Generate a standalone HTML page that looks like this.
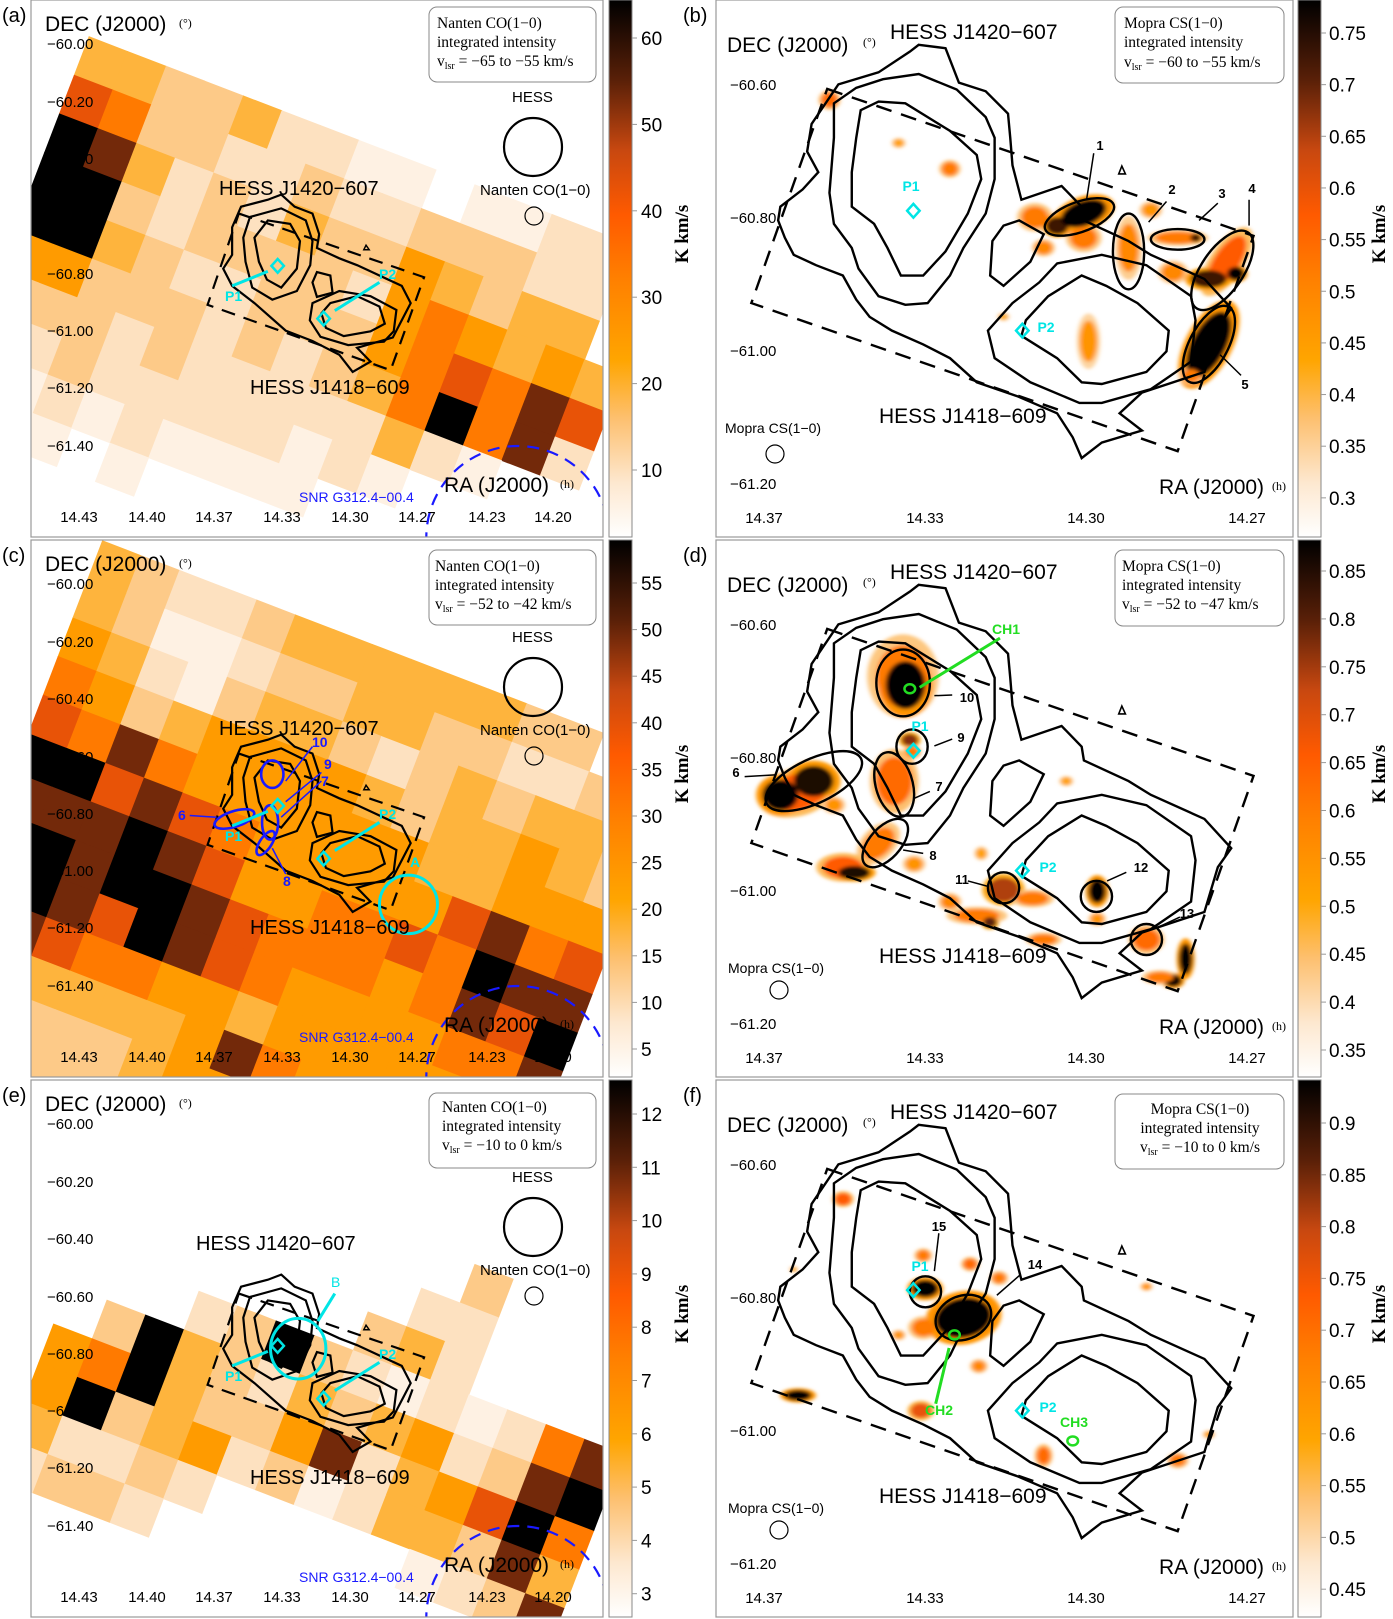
<!DOCTYPE html>
<html><head><meta charset="utf-8"><title>CO and CS maps toward HESS J1420-607 / J1418-609</title>
<style>
html,body{margin:0;padding:0;background:#fff;width:1393px;height:1619px;overflow:hidden;}
svg{display:block;}
.nss{vector-effect:non-scaling-stroke;}
.t{font-family:"Liberation Sans",sans-serif;fill:#000;}
.s{font-family:"Liberation Serif",serif;fill:#000;}
</style></head>
<body>
<svg id="fig" xmlns="http://www.w3.org/2000/svg" width="1393" height="1619" viewBox="0 0 1393 1619">
<defs>
<linearGradient id="cbgrad" x1="0" y1="1" x2="0" y2="0">
<stop offset="0" stop-color="#ffffff"/><stop offset="0.1" stop-color="#fde8d0"/><stop offset="0.22" stop-color="#fdc070"/>
<stop offset="0.33" stop-color="#ffa500"/><stop offset="0.48" stop-color="#ff8000"/><stop offset="0.6" stop-color="#ff5a00"/>
<stop offset="0.72" stop-color="#c84810"/><stop offset="0.85" stop-color="#5a2008"/><stop offset="1" stop-color="#000000"/>
</linearGradient>
<filter id="blur" x="-50%" y="-50%" width="200%" height="200%"><feGaussianBlur stdDeviation="5"/></filter>
<clipPath id="clipL0"><rect x="31" y="0" width="572" height="537"/></clipPath>
<clipPath id="clipL1"><rect x="31" y="540" width="572" height="537"/></clipPath>
<clipPath id="clipL2"><rect x="31" y="1080" width="572" height="537"/></clipPath>
<clipPath id="clipR0"><rect x="716" y="0" width="577" height="537"/></clipPath>
<clipPath id="clipR1"><rect x="716" y="540" width="577" height="537"/></clipPath>
<clipPath id="clipR2"><rect x="716" y="1080" width="577" height="537"/></clipPath>
<g id="hessL" fill="none" stroke="#000" stroke-width="2.2">
<path class="nss" d="M630,565 L660,600 L700,620 L715,680 L710,720 L760,750 L800,770 L850,800 L900,830 L920,880 L900,930 L880,980 L800,1010 L830,1050 L790,1080 L760,1030 L700,990 L640,960 L570,880 L520,830 L500,780 L520,740 L520,660 L540,600 L600,580 Z"/>
<path class="nss" d="M560,630 L630,605 L685,640 L700,700 L695,770 L665,845 L610,870 L565,835 L550,760 L545,690 Z"/>
<path class="nss" d="M600,640 L650,650 L672,700 L665,780 L630,835 L598,812 L580,760 L570,690 Z"/>
<path class="nss" d="M710,790 L740,800 L745,850 L710,862 L700,820 Z"/>
<path class="nss" d="M700,880 L760,845 L830,860 L888,900 L882,962 L860,992 L780,1002 L718,978 L694,930 Z"/>
<path class="nss" d="M740,880 L800,860 L850,890 L862,940 L830,962 L770,976 L730,952 L720,910 Z"/>
<path class="nss" d="M535,620 L950,805 L875,1075 L465,885 Z" stroke-dasharray="14 9"/>
<path class="nss" d="M815,725 L820,712 L827,725 Z" stroke-width="1.5"/>
</g>
<g id="hessR" fill="none" stroke="#000" stroke-width="2.4">
<path class="nss" d="M490,130 L550,140 L580,240 L640,265 L690,330 L695,400 L700,480 L720,580 L810,540 L855,600 L860,640 L960,700 L1010,740 L1130,810 L1190,895 L1160,950 L1130,1080 L990,1140 L940,1200 L990,1250 L900,1285 L855,1330 L835,1270 L800,1200 L710,1150 L620,1110 L560,1040 L500,1000 L430,960 L380,920 L350,870 L320,800 L260,770 L210,740 L190,690 L175,640 L180,600 L230,550 L265,500 L240,440 L250,360 L310,245 L400,210 L470,150 Z"/>
<path class="nss" d="M490,215 L575,260 L640,340 L660,400 L660,520 L640,620 L590,720 L560,800 L510,880 L460,885 L400,860 L355,780 L340,720 L300,650 L290,560 L300,400 L300,300 L350,255 L410,230 Z"/>
<path class="nss" d="M400,295 L460,300 L560,380 L620,450 L630,520 L600,620 L550,730 L500,800 L450,800 L420,720 L390,650 L340,600 L340,500 L350,400 L360,320 Z"/>
<path class="nss" d="M680,655 L715,640 L770,680 L740,760 L680,830 L650,800 L655,700 Z"/>
<path class="nss" d="M800,765 L900,740 L1000,770 L1100,860 L1110,930 L1100,1050 L1010,1130 L900,1170 L850,1170 L740,1110 L660,1040 L645,960 L700,880 L760,820 Z"/>
<path class="nss" d="M855,800 L910,830 L980,880 L1050,960 L1045,1020 L1000,1080 L900,1115 L855,1110 L800,1040 L720,975 L730,930 L780,860 Z"/>
<path class="nss" d="M285,258 L1240,685 L1070,1310 L115,880 Z" stroke-dasharray="16 10"/>
<path class="nss" d="M938,505 L945,482 L953,505 Z" stroke-width="1.6"/>
</g>
</defs>

<!-- ================= PANEL A ================= -->
<g id="panel-a">
<g clip-path="url(#clipL0)"><g transform="scale(1.0331)"><g id="mapA" transform="translate(86,35) rotate(21)"></g></g>
<g transform="translate(0,0) scale(0.4464 0.3444)">
<use href="#hessL"/>
<ellipse class="nss" cx="1160" cy="1560" rx="205" ry="265" fill="none" stroke="#1a1aff" stroke-width="2.2" stroke-dasharray="12 8"/>
<line class="nss" x1="520" y1="830" x2="600" y2="788" stroke="#00e5e5" stroke-width="3"/>
<line class="nss" x1="850" y1="820" x2="750" y2="902" stroke="#00e5e5" stroke-width="3"/>
<polygon class="nss" points="622,752 636,772 622,792 608,772" fill="none" stroke="#00e5e5" stroke-width="2.5"/>
<polygon class="nss" points="725,905 739,925 725,945 711,925" fill="none" stroke="#00e5e5" stroke-width="2.5"/>
</g></g>
<rect x="31" y="0" width="572" height="537" fill="none" stroke="#999" stroke-width="1.2"/>
<rect x="429" y="7" width="167" height="75" rx="8" fill="#fff" stroke="#888"/>
<text class="s" x="437" y="28" font-size="15.5">Nanten CO(1−0)</text>
<text class="s" x="437" y="47" font-size="15.5">integrated intensity</text>
<text class="s" x="437" y="66" font-size="15.5">v<tspan font-size="10" dy="3">lsr</tspan><tspan dy="-3"> = −65 to −55 km/s</tspan></text>
<text class="t" x="2" y="22" font-size="20">(a)</text>
<text class="t" x="45" y="31" font-size="21">DEC (J2000)</text><text class="s" x="179" y="27" font-size="12">(°)</text>
<text class="t" x="512" y="102" font-size="15">HESS</text>
<circle cx="533" cy="147" r="29" fill="none" stroke="#000" stroke-width="2.2"/>
<text class="t" x="480" y="195" font-size="15">Nanten CO(1−0)</text>
<circle cx="534" cy="216" r="9" fill="none" stroke="#000" stroke-width="1.2"/>
<text class="t" x="219" y="195" font-size="20">HESS J1420−607</text>
<text class="t" x="250" y="394" font-size="20">HESS J1418−609</text>
<text class="t" x="225" y="301" font-size="14" font-weight="bold" style="fill:#00e5e5">P1</text>
<text class="t" x="379" y="279" font-size="14" font-weight="bold" style="fill:#00e5e5">P2</text>
<text class="t" x="299" y="502" font-size="14" style="fill:#1a1aff">SNR G312.4−00.4</text>
<text class="t" x="444" y="492" font-size="21">RA (J2000)</text><text class="s" x="560" y="488" font-size="12">(h)</text>
<g class="t" font-size="15"><text x="47" y="49">−60.00</text><text x="47" y="107">−60.20</text><text x="47" y="164">−60.40</text><text x="47" y="222">−60.60</text><text x="47" y="279">−60.80</text><text x="47" y="336">−61.00</text><text x="47" y="393">−61.20</text><text x="47" y="451">−61.40</text></g>
<g class="t" font-size="15" text-anchor="middle"><text x="79" y="522">14.43</text><text x="147" y="522">14.40</text><text x="214" y="522">14.37</text><text x="282" y="522">14.33</text><text x="350" y="522">14.30</text><text x="417" y="522">14.27</text><text x="487" y="522">14.23</text><text x="553" y="522">14.20</text></g>
<rect x="609" y="0" width="23" height="537" fill="url(#cbgrad)" stroke="#888"/>
<g id="cbA" class="t" font-size="19"></g>
<text class="s" font-size="19" font-weight="bold" transform="translate(688,234) rotate(-90)" text-anchor="middle">K km/s</text>
</g>

<!-- ================= PANEL C ================= -->
<g id="panel-c">
<g clip-path="url(#clipL1)"><g transform="scale(1.0331)"><g id="mapC" transform="translate(99,523) rotate(21)"></g></g>
<g transform="translate(0,540) scale(0.4464 0.3444)">
<use href="#hessL"/>
<ellipse class="nss" cx="1160" cy="1560" rx="205" ry="265" fill="none" stroke="#1a1aff" stroke-width="2.2" stroke-dasharray="12 8"/>
<g fill="none" stroke="#1a1aff" stroke-width="2.6">
<ellipse class="nss" cx="610" cy="680" rx="25" ry="40"/>
<ellipse class="nss" cx="525" cy="810" rx="48" ry="22" transform="rotate(-25 525 810)"/>
<ellipse class="nss" cx="605" cy="820" rx="18" ry="50"/>
<ellipse class="nss" cx="595" cy="880" rx="14" ry="38" transform="rotate(25 595 880)"/>
</g>
<g stroke="#1a1aff" stroke-width="1.5">
<line class="nss" x1="700" y1="600" x2="640" y2="700"/><line class="nss" x1="720" y1="675" x2="640" y2="760"/>
<line class="nss" x1="720" y1="700" x2="630" y2="805"/><line class="nss" x1="425" y1="800" x2="485" y2="805"/>
<line class="nss" x1="640" y1="970" x2="610" y2="895"/></g>
<ellipse class="nss" cx="915" cy="1058" rx="65" ry="85" fill="none" stroke="#00e5e5" stroke-width="3"/>
<line class="nss" x1="520" y1="830" x2="600" y2="788" stroke="#00e5e5" stroke-width="3"/>
<line class="nss" x1="850" y1="820" x2="750" y2="902" stroke="#00e5e5" stroke-width="3"/>
<polygon class="nss" points="622,752 636,772 622,792 608,772" fill="none" stroke="#00e5e5" stroke-width="2.5"/>
<polygon class="nss" points="725,905 739,925 725,945 711,925" fill="none" stroke="#00e5e5" stroke-width="2.5"/>
</g></g>
<rect x="31" y="540" width="572" height="537" fill="none" stroke="#999" stroke-width="1.2"/>
<rect x="429" y="550" width="167" height="75" rx="8" fill="#fff" stroke="#888"/>
<text class="s" x="435" y="571" font-size="15.5">Nanten CO(1−0)</text>
<text class="s" x="435" y="590" font-size="15.5">integrated intensity</text>
<text class="s" x="435" y="609" font-size="15.5">v<tspan font-size="10" dy="3">lsr</tspan><tspan dy="-3"> = −52 to −42 km/s</tspan></text>
<text class="t" x="2" y="562" font-size="20">(c)</text>
<text class="t" x="45" y="571" font-size="21">DEC (J2000)</text><text class="s" x="179" y="567" font-size="12">(°)</text>
<text class="t" x="512" y="642" font-size="15">HESS</text>
<circle cx="533" cy="687" r="29" fill="none" stroke="#000" stroke-width="2.2"/>
<text class="t" x="480" y="735" font-size="15">Nanten CO(1−0)</text>
<circle cx="534" cy="756" r="9" fill="none" stroke="#000" stroke-width="1.2"/>
<text class="t" x="219" y="735" font-size="20">HESS J1420−607</text>
<text class="t" x="250" y="934" font-size="20">HESS J1418−609</text>
<text class="t" x="225" y="841" font-size="14" font-weight="bold" style="fill:#00e5e5">P1</text>
<text class="t" x="379" y="819" font-size="14" font-weight="bold" style="fill:#00e5e5">P2</text>
<text class="t" x="410" y="867" font-size="14" font-weight="bold" style="fill:#00e5e5">A</text>
<g class="t" font-size="14" font-weight="bold"><text x="312" y="747" style="fill:#1a1aff">10</text><text x="324" y="769" style="fill:#1a1aff">9</text><text x="321" y="786" style="fill:#1a1aff">7</text><text x="178" y="820" style="fill:#1a1aff">6</text><text x="283" y="886" style="fill:#1a1aff">8</text></g>
<text class="t" x="299" y="1042" font-size="14" style="fill:#1a1aff">SNR G312.4−00.4</text>
<text class="t" x="444" y="1032" font-size="21">RA (J2000)</text><text class="s" x="560" y="1028" font-size="12">(h)</text>
<g class="t" font-size="15"><text x="47" y="589">−60.00</text><text x="47" y="647">−60.20</text><text x="47" y="704">−60.40</text><text x="47" y="762">−60.60</text><text x="47" y="819">−60.80</text><text x="47" y="876">−61.00</text><text x="47" y="933">−61.20</text><text x="47" y="991">−61.40</text></g>
<g class="t" font-size="15" text-anchor="middle"><text x="79" y="1062">14.43</text><text x="147" y="1062">14.40</text><text x="214" y="1062">14.37</text><text x="282" y="1062">14.33</text><text x="350" y="1062">14.30</text><text x="417" y="1062">14.27</text><text x="487" y="1062">14.23</text><text x="553" y="1062">14.20</text></g>
<rect x="609" y="540" width="23" height="537" fill="url(#cbgrad)" stroke="#888"/>
<g id="cbC" class="t" font-size="19"></g>
<text class="s" font-size="19" font-weight="bold" transform="translate(688,774) rotate(-90)" text-anchor="middle">K km/s</text>
</g>

<!-- ================= PANEL E ================= -->
<g id="panel-e">
<g clip-path="url(#clipL2)"><g transform="scale(1.0331)"><g id="mapE" transform="translate(86,1080) rotate(21)"></g></g>
<g transform="translate(0,1080) scale(0.4464 0.3444)">
<use href="#hessL"/>
<ellipse class="nss" cx="1160" cy="1560" rx="205" ry="265" fill="none" stroke="#1a1aff" stroke-width="2.2" stroke-dasharray="12 8"/>
<ellipse class="nss" cx="668" cy="780" rx="62" ry="88" fill="none" stroke="#00e5e5" stroke-width="3"/>
<line class="nss" x1="750" y1="620" x2="712" y2="700" stroke="#00e5e5" stroke-width="3"/>
<line class="nss" x1="520" y1="830" x2="600" y2="788" stroke="#00e5e5" stroke-width="3"/>
<line class="nss" x1="850" y1="820" x2="750" y2="902" stroke="#00e5e5" stroke-width="3"/>
<polygon class="nss" points="622,752 636,772 622,792 608,772" fill="none" stroke="#00e5e5" stroke-width="2.5"/>
<polygon class="nss" points="725,905 739,925 725,945 711,925" fill="none" stroke="#00e5e5" stroke-width="2.5"/>
</g></g>
<rect x="31" y="1080" width="572" height="537" fill="none" stroke="#999" stroke-width="1.2"/>
<rect x="429" y="1093" width="167" height="75" rx="8" fill="#fff" stroke="#888"/>
<text class="s" x="442" y="1112" font-size="15.5">Nanten CO(1−0)</text>
<text class="s" x="442" y="1131" font-size="15.5">integrated intensity</text>
<text class="s" x="442" y="1150" font-size="15.5">v<tspan font-size="10" dy="3">lsr</tspan><tspan dy="-3">  = −10 to 0 km/s</tspan></text>
<text class="t" x="2" y="1102" font-size="20">(e)</text>
<text class="t" x="45" y="1111" font-size="21">DEC (J2000)</text><text class="s" x="179" y="1107" font-size="12">(°)</text>
<text class="t" x="512" y="1182" font-size="15">HESS</text>
<circle cx="533" cy="1227" r="29" fill="none" stroke="#000" stroke-width="2.2"/>
<text class="t" x="480" y="1275" font-size="15">Nanten CO(1−0)</text>
<circle cx="534" cy="1296" r="9" fill="none" stroke="#000" stroke-width="1.2"/>
<text class="t" x="196" y="1250" font-size="20">HESS J1420−607</text>
<text class="t" x="250" y="1484" font-size="20">HESS J1418−609</text>
<text class="t" x="225" y="1381" font-size="14" font-weight="bold" style="fill:#00e5e5">P1</text>
<text class="t" x="379" y="1359" font-size="14" font-weight="bold" style="fill:#00e5e5">P2</text>
<text class="t" x="331" y="1287" font-size="14" style="fill:#00e5e5">B</text>
<text class="t" x="299" y="1582" font-size="14" style="fill:#1a1aff">SNR G312.4−00.4</text>
<text class="t" x="444" y="1572" font-size="21">RA (J2000)</text><text class="s" x="560" y="1568" font-size="12">(h)</text>
<g class="t" font-size="15"><text x="47" y="1129">−60.00</text><text x="47" y="1187">−60.20</text><text x="47" y="1244">−60.40</text><text x="47" y="1302">−60.60</text><text x="47" y="1359">−60.80</text><text x="47" y="1416">−61.00</text><text x="47" y="1473">−61.20</text><text x="47" y="1531">−61.40</text></g>
<g class="t" font-size="15" text-anchor="middle"><text x="79" y="1602">14.43</text><text x="147" y="1602">14.40</text><text x="214" y="1602">14.37</text><text x="282" y="1602">14.33</text><text x="350" y="1602">14.30</text><text x="417" y="1602">14.27</text><text x="487" y="1602">14.23</text><text x="553" y="1602">14.20</text></g>
<rect x="609" y="1080" width="23" height="537" fill="url(#cbgrad)" stroke="#888"/>
<g id="cbE" class="t" font-size="19"></g>
<text class="s" font-size="19" font-weight="bold" transform="translate(688,1314) rotate(-90)" text-anchor="middle">K km/s</text>
</g>

<!-- ================= RIGHT PANELS ================= -->
<g id="panel-b">
<g clip-path="url(#clipR0)"><g transform="translate(700,0) scale(0.4464 0.3444)">
<g id="blobsB" filter="url(#blur)"></g>
<use href="#hessR"/>
<g fill="none" stroke="#000" stroke-width="2.4">
<ellipse class="nss" cx="850" cy="630" rx="85" ry="42" transform="rotate(-28 850 630)"/>
<ellipse class="nss" cx="960" cy="730" rx="35" ry="110"/>
<ellipse class="nss" cx="1070" cy="695" rx="60" ry="30"/>
<ellipse class="nss" cx="1170" cy="785" rx="50" ry="125" transform="rotate(25 1170 785)"/>
<ellipse class="nss" cx="1140" cy="1000" rx="45" ry="118" transform="rotate(20 1140 1000)"/>
</g>
<g stroke="#000" stroke-width="1.5"><line class="nss" x1="882" y1="445" x2="866" y2="580"/><line class="nss" x1="1045" y1="585" x2="1005" y2="645"/><line class="nss" x1="1160" y1="590" x2="1118" y2="640"/><line class="nss" x1="1230" y1="580" x2="1230" y2="655"/><line class="nss" x1="1212" y1="1090" x2="1165" y2="1030"/></g>
<polygon class="nss" points="478,592 492,612 478,632 464,612" fill="none" stroke="#00e5e5" stroke-width="2.5"/>
<polygon class="nss" points="722,940 736,960 722,980 708,960" fill="none" stroke="#00e5e5" stroke-width="2.5"/>
</g></g>
<rect x="716" y="0" width="577" height="537" fill="none" stroke="#999" stroke-width="1.2"/>
<rect x="1115" y="7" width="169" height="76" rx="8" fill="#fff" stroke="#888"/>
<text class="s" x="1124" y="28" font-size="15.5">Mopra CS(1−0)</text>
<text class="s" x="1124" y="47" font-size="15.5">integrated intensity</text>
<text class="s" x="1124" y="67" font-size="15.5">v<tspan font-size="10" dy="3">lsr</tspan><tspan dy="-3"> = −60 to −55 km/s</tspan></text>
<text class="t" x="683" y="22" font-size="20">(b)</text>
<text class="t" x="727" y="52" font-size="21">DEC (J2000)</text><text class="s" x="863" y="46" font-size="12">(°)</text>
<text class="t" x="890" y="39" font-size="21">HESS J1420−607</text>
<text class="t" x="879" y="423" font-size="21">HESS J1418−609</text>
<text class="t" x="725" y="433" font-size="14">Mopra CS(1−0)</text>
<circle cx="775" cy="454" r="9" fill="none" stroke="#000" stroke-width="1.2"/>
<text class="t" x="1159" y="494" font-size="21">RA (J2000)</text><text class="s" x="1272" y="490" font-size="12">(h)</text>
<text class="t" x="911" y="191" font-size="14" font-weight="bold" text-anchor="middle" style="fill:#00e5e5">P1</text>
<text class="t" x="1046" y="332" font-size="14" font-weight="bold" text-anchor="middle" style="fill:#00e5e5">P2</text>
<g class="t" font-size="13" font-weight="bold" text-anchor="middle"><text x="1100" y="150">1</text><text x="1172" y="194">2</text><text x="1222" y="198">3</text><text x="1252" y="193">4</text><text x="1245" y="389">5</text></g>
<g class="t" font-size="15"><text x="730" y="90">−60.60</text><text x="730" y="223">−60.80</text><text x="730" y="356">−61.00</text><text x="730" y="489">−61.20</text></g>
<g class="t" font-size="15" text-anchor="middle"><text x="764" y="523">14.37</text><text x="925" y="523">14.33</text><text x="1086" y="523">14.30</text><text x="1247" y="523">14.27</text></g>
<rect x="1298" y="0" width="23" height="537" fill="url(#cbgrad)" stroke="#888"/>
<g id="cbB" class="t" font-size="19"></g>
<text class="s" font-size="19" font-weight="bold" transform="translate(1385,234) rotate(-90)" text-anchor="middle">K km/s</text>
</g>

<g id="panel-d">
<g clip-path="url(#clipR1)"><g transform="translate(700,540) scale(0.4464 0.3444)">
<g id="blobsD" filter="url(#blur)"></g>
<use href="#hessR"/>
<g fill="none" stroke="#000" stroke-width="2.4">
<ellipse class="nss" cx="455" cy="415" rx="60" ry="97"/>
<ellipse class="nss" cx="475" cy="600" rx="35" ry="50"/>
<ellipse class="nss" cx="255" cy="700" rx="125" ry="60" transform="rotate(-35 255 700)"/>
<ellipse class="nss" cx="435" cy="710" rx="42" ry="95" transform="rotate(-10 435 710)"/>
<ellipse class="nss" cx="415" cy="880" rx="38" ry="78" transform="rotate(30 415 880)"/>
<ellipse class="nss" cx="680" cy="1010" rx="35" ry="45"/>
<ellipse class="nss" cx="888" cy="1035" rx="35" ry="45"/>
<ellipse class="nss" cx="1000" cy="1160" rx="35" ry="45"/>
</g>
<g stroke="#000" stroke-width="1.5"><line class="nss" x1="565" y1="450" x2="525" y2="452"/><line class="nss" x1="565" y1="578" x2="525" y2="598"/><line class="nss" x1="515" y1="730" x2="480" y2="750"/><line class="nss" x1="500" y1="910" x2="455" y2="900"/><line class="nss" x1="100" y1="687" x2="168" y2="682"/><line class="nss" x1="600" y1="990" x2="643" y2="1005"/><line class="nss" x1="955" y1="965" x2="912" y2="990"/><line class="nss" x1="1075" y1="1095" x2="1025" y2="1125"/></g>
<line class="nss" x1="672" y1="285" x2="492" y2="428" stroke="#22dd22" stroke-width="3"/>
<ellipse class="nss" cx="470" cy="432" rx="12" ry="13" fill="none" stroke="#22dd22" stroke-width="2.5"/>
<polygon class="nss" points="478,592 492,612 478,632 464,612" fill="none" stroke="#00e5e5" stroke-width="2.5"/>
<polygon class="nss" points="722,940 736,960 722,980 708,960" fill="none" stroke="#00e5e5" stroke-width="2.5"/>
</g></g>
<rect x="716" y="540" width="577" height="537" fill="none" stroke="#999" stroke-width="1.2"/>
<rect x="1115" y="550" width="169" height="76" rx="8" fill="#fff" stroke="#888"/>
<text class="s" x="1122" y="571" font-size="15.5">Mopra CS(1−0)</text>
<text class="s" x="1122" y="590" font-size="15.5">integrated intensity</text>
<text class="s" x="1122" y="609" font-size="15.5">v<tspan font-size="10" dy="3">lsr</tspan><tspan dy="-3"> = −52 to −47 km/s</tspan></text>
<text class="t" x="683" y="562" font-size="20">(d)</text>
<text class="t" x="727" y="592" font-size="21">DEC (J2000)</text><text class="s" x="863" y="586" font-size="12">(°)</text>
<text class="t" x="890" y="579" font-size="21">HESS J1420−607</text>
<text class="t" x="879" y="963" font-size="21">HESS J1418−609</text>
<text class="t" x="728" y="973" font-size="14">Mopra CS(1−0)</text>
<circle cx="779" cy="990" r="9" fill="none" stroke="#000" stroke-width="1.2"/>
<text class="t" x="1159" y="1034" font-size="21">RA (J2000)</text><text class="s" x="1272" y="1030" font-size="12">(h)</text>
<text class="t" x="920" y="731" font-size="14" font-weight="bold" text-anchor="middle" style="fill:#00e5e5">P1</text>
<text class="t" x="1048" y="872" font-size="14" font-weight="bold" text-anchor="middle" style="fill:#00e5e5">P2</text>
<text class="t" x="1006" y="634" font-size="14" font-weight="bold" text-anchor="middle" style="fill:#22dd22">CH1</text>
<g class="t" font-size="13" font-weight="bold" text-anchor="middle"><text x="967" y="702">10</text><text x="961" y="742">9</text><text x="939" y="791">7</text><text x="933" y="860">8</text><text x="736" y="777">6</text><text x="962" y="884">11</text><text x="1141" y="872">12</text><text x="1187" y="918">13</text></g>
<g class="t" font-size="15"><text x="730" y="630">−60.60</text><text x="730" y="763">−60.80</text><text x="730" y="896">−61.00</text><text x="730" y="1029">−61.20</text></g>
<g class="t" font-size="15" text-anchor="middle"><text x="764" y="1063">14.37</text><text x="925" y="1063">14.33</text><text x="1086" y="1063">14.30</text><text x="1247" y="1063">14.27</text></g>
<rect x="1298" y="540" width="23" height="537" fill="url(#cbgrad)" stroke="#888"/>
<g id="cbD" class="t" font-size="19"></g>
<text class="s" font-size="19" font-weight="bold" transform="translate(1385,774) rotate(-90)" text-anchor="middle">K km/s</text>
</g>

<g id="panel-f">
<g clip-path="url(#clipR2)"><g transform="translate(700,1080) scale(0.4464 0.3444)">
<g id="blobsF" filter="url(#blur)"></g>
<use href="#hessR"/>
<g fill="none" stroke="#000" stroke-width="2.4">
<ellipse class="nss" cx="505" cy="615" rx="35" ry="45"/>
<ellipse class="nss" cx="590" cy="690" rx="58" ry="70" transform="rotate(35 590 690)"/>
</g>
<g stroke="#000" stroke-width="1.5"><line class="nss" x1="535" y1="445" x2="525" y2="555"/><line class="nss" x1="718" y1="565" x2="665" y2="625"/></g>
<line class="nss" x1="528" y1="940" x2="558" y2="778" stroke="#22dd22" stroke-width="3"/>
<ellipse class="nss" cx="570" cy="740" rx="12" ry="13" fill="none" stroke="#22dd22" stroke-width="2.5"/>
<ellipse class="nss" cx="835" cy="1048" rx="12" ry="13" fill="none" stroke="#22dd22" stroke-width="2.5"/>
<polygon class="nss" points="478,590 492,610 478,630 464,610" fill="none" stroke="#00e5e5" stroke-width="2.5"/>
<polygon class="nss" points="722,940 736,960 722,980 708,960" fill="none" stroke="#00e5e5" stroke-width="2.5"/>
</g></g>
<rect x="716" y="1080" width="577" height="537" fill="none" stroke="#999" stroke-width="1.2"/>
<rect x="1115" y="1094" width="169" height="75" rx="8" fill="#fff" stroke="#888"/>
<text class="s" x="1200" y="1114" font-size="15.5" text-anchor="middle">Mopra CS(1−0)</text>
<text class="s" x="1200" y="1133" font-size="15.5" text-anchor="middle">integrated intensity</text>
<text class="s" x="1200" y="1152" font-size="15.5" text-anchor="middle">v<tspan font-size="10" dy="3">lsr</tspan><tspan dy="-3">  = −10 to 0 km/s</tspan></text>
<text class="t" x="683" y="1102" font-size="20">(f)</text>
<text class="t" x="727" y="1132" font-size="21">DEC (J2000)</text><text class="s" x="863" y="1126" font-size="12">(°)</text>
<text class="t" x="890" y="1119" font-size="21">HESS J1420−607</text>
<text class="t" x="879" y="1503" font-size="21">HESS J1418−609</text>
<text class="t" x="728" y="1513" font-size="14">Mopra CS(1−0)</text>
<circle cx="779" cy="1530" r="9" fill="none" stroke="#000" stroke-width="1.2"/>
<text class="t" x="1159" y="1574" font-size="21">RA (J2000)</text><text class="s" x="1272" y="1570" font-size="12">(h)</text>
<text class="t" x="920" y="1271" font-size="14" font-weight="bold" text-anchor="middle" style="fill:#00e5e5">P1</text>
<text class="t" x="1048" y="1412" font-size="14" font-weight="bold" text-anchor="middle" style="fill:#00e5e5">P2</text>
<text class="t" x="939" y="1415" font-size="14" font-weight="bold" text-anchor="middle" style="fill:#22dd22">CH2</text>
<text class="t" x="1074" y="1427" font-size="14" font-weight="bold" text-anchor="middle" style="fill:#22dd22">CH3</text>
<g class="t" font-size="13" font-weight="bold" text-anchor="middle"><text x="939" y="1231">15</text><text x="1035" y="1269">14</text></g>
<g class="t" font-size="15"><text x="730" y="1170">−60.60</text><text x="730" y="1303">−60.80</text><text x="730" y="1436">−61.00</text><text x="730" y="1569">−61.20</text></g>
<g class="t" font-size="15" text-anchor="middle"><text x="764" y="1603">14.37</text><text x="925" y="1603">14.33</text><text x="1086" y="1603">14.30</text><text x="1247" y="1603">14.27</text></g>
<rect x="1298" y="1080" width="23" height="537" fill="url(#cbgrad)" stroke="#888"/>
<g id="cbF" class="t" font-size="19"></g>
<text class="s" font-size="19" font-weight="bold" transform="translate(1385,1314) rotate(-90)" text-anchor="middle">K km/s</text>
</g>
</svg>

<script>
// ---------- Nanten CO grids (intensity level 0-9 per pixel, rows along DEC) ----------
const gridA = ["443342211011220","763322322333220","984232433543440","993233332565454","994322333567687","553332323469682","333232222242100","023222221210000","012121111000000","011010000000000"];
const gridC = ["432234444443303","431123344332233","542134432343443","653455554344543","768655555544555","997876555557867","888987556676988","998998766656879","998798765555668","887665545555558","544444586555555","333334555555555","333334555555555"];
const gridE = ["000000000030000","000000000220000","000000003420000","000023932121268","003943243452389","056943358245796","059345231244384","042232000001238","023320000000000"];
// colour-scale fraction for each intensity level
const levelT = [0,0.06,0.12,0.19,0.27,0.37,0.5,0.65,0.82,1];

// ---------- Mopra CS clumps ----------
const bRA   = [14.3106,14.3088,14.3005,14.3060,14.3005,14.2912,14.2866,14.2820,14.2810,14.2773,14.2709,14.2746,14.2690,14.2746,14.2783,14.2995,14.3282,14.3388,14.3531,14.3171];
const bDEC  = [-60.803,-60.849,-60.834,-60.816,-60.797,-60.849,-60.792,-60.886,-60.834,-60.834,-60.870,-60.896,-60.888,-60.995,-61.042,-60.990,-60.730,-60.691,-60.626,-60.953];
const bPeak = [0.5,0.45,0.5,0.9,1.0,0.45,0.4,0.45,0.5,0.9,0.6,0.9,1.0,1.0,0.5,0.4,0.5,0.35,0.55,0.3];
const bSX   = [0.020,0.013,0.020,0.017,0.037,0.015,0.013,0.017,0.034,0.008,0.020,0.027,0.013,0.027,0.013,0.013,0.012,0.008,0.012,0.007];
const bSY   = [0.016,0.010,0.016,0.013,0.018,0.036,0.010,0.013,0.009,0.006,0.042,0.013,0.010,0.052,0.010,0.031,0.010,0.006,0.011,0.005];
const bPA   = [0,0,0,0,-30,0,0,0,0,0,25,0,0,20,0,0,0,0,0,0];

const dRA   = [14.3379,14.3374,14.3365,14.3360,14.3596,14.3633,14.3564,14.3397,14.3430,14.3503,14.3480,14.3356,14.3171,14.3111,14.3282,14.3226,14.3199,14.3088,14.2977,14.2977,14.2875,14.2794,14.2820,14.2847,14.3217,14.3041,14.3522];
const dDEC  = [-60.681,-60.694,-60.777,-60.795,-60.855,-60.860,-60.839,-60.839,-60.933,-60.969,-60.977,-60.964,-61.003,-61.016,-61.021,-61.042,-61.052,-61.078,-61.005,-61.047,-61.078,-61.107,-61.140,-61.135,-60.948,-60.839,-60.875];
const dPeak = [0.5,1.0,0.8,0.5,0.6,1.0,0.95,0.55,0.5,0.6,0.95,0.4,0.75,0.5,0.45,0.5,0.85,0.5,1.0,0.4,0.55,1.0,1.0,0.5,0.35,0.35,0.4];
const dSX   = [0.040,0.030,0.012,0.010,0.047,0.027,0.030,0.027,0.020,0.030,0.024,0.013,0.024,0.024,0.013,0.034,0.010,0.020,0.013,0.010,0.020,0.010,0.013,0.020,0.008,0.008,0.013];
const dSY   = [0.047,0.036,0.009,0.008,0.026,0.023,0.023,0.036,0.026,0.016,0.010,0.010,0.018,0.010,0.010,0.010,0.008,0.008,0.018,0.008,0.016,0.023,0.009,0.008,0.008,0.006,0.010];
const dPA   = [0,0,0,0,-30,0,0,0,30,0,0,0,0,0,0,0,0,0,0,0,0,0,0,0,0,0,0];

const fRA   = [14.3337,14.3240,14.3180,14.3503,14.3337,14.3388,14.3222,14.3333,14.3254,14.3596,14.3342,14.3088,14.2810,14.2875,14.2746,14.3605];
const fDEC  = [-60.740,-60.753,-60.774,-60.655,-60.849,-60.860,-60.907,-60.790,-60.834,-60.951,-60.974,-61.042,-61.049,-60.787,-61.010,-60.761];
const fPeak = [0.5,0.55,0.5,0.6,0.5,0.4,0.45,1.0,1.0,1.0,0.65,0.55,0.5,0.4,0.35,0.3];
const fSX   = [0.010,0.010,0.010,0.012,0.017,0.008,0.010,0.020,0.044,0.020,0.015,0.010,0.012,0.007,0.007,0.005];
const fSY   = [0.008,0.008,0.008,0.009,0.013,0.006,0.008,0.013,0.029,0.008,0.011,0.013,0.009,0.005,0.005,0.004];
const fPA   = [0,0,0,0,0,0,0,0,-30,0,0,0,0,0,0,0];

// ---------- colorbar ticks ----------
const cbTicksA = [10,20,30,40,50,60];
const cbTicksC = [5,10,15,20,25,30,35,40,45,50,55];
const cbTicksE = [3,4,5,6,7,8,9,10,11,12];
const cbTicksB = ["0.3","0.35","0.4","0.45","0.5","0.55","0.6","0.65","0.7","0.75"];
const cbTicksD = ["0.35","0.4","0.45","0.5","0.55","0.6","0.65","0.7","0.75","0.8","0.85"];
const cbTicksF = ["0.45","0.5","0.55","0.6","0.65","0.7","0.75","0.8","0.85","0.9"];

const NS = "http://www.w3.org/2000/svg";
const stops = [[0,255,255,255],[0.1,253,232,208],[0.22,253,192,112],[0.33,255,165,0],[0.48,255,128,0],[0.6,255,90,0],[0.72,200,72,16],[0.85,90,32,8],[1,0,0,0]];
function colour(t){
  t = Math.max(0, Math.min(1, t));
  for (let k = 1; k < stops.length; k++) {
    if (t <= stops[k][0]) {
      const a = stops[k-1], b = stops[k], f = (t - a[0]) / (b[0] - a[0]);
      return "rgb(" + [1,2,3].map(c => Math.round(a[c] + (b[c] - a[c]) * f)).join(",") + ")";
    }
  }
  return "rgb(0,0,0)";
}

const CELL = 40;
function drawGrid(gid, rows){
  const g = document.getElementById(gid);
  rows.forEach((row, j) => {
    for (let i = 0; i < row.length; i++) {
      const v = +row[i];
      if (v === 0) continue;
      const r = document.createElementNS(NS, "rect");
      r.setAttribute("x", i * CELL); r.setAttribute("y", j * CELL);
      r.setAttribute("width", CELL + 0.6); r.setAttribute("height", CELL + 0.6);
      r.setAttribute("fill", colour(levelT[v]));
      
      
      g.appendChild(r);
    }
  });
}
drawGrid("mapA", gridA);
drawGrid("mapC", gridC);
drawGrid("mapE", gridE);

function xRA(ra){ return 143 + (14.3667 - ra) * 10822; }
function yDEC(dec){ return 240 + (-60.6 - dec) * 1925; }
function drawBlobs(gid, ra, dec, peak, sx, sy, pa){
  const g = document.getElementById(gid);
  for (let pass = 0; pass < 2; pass++) {
    for (let k = 0; k < ra.length; k++) {
      const e = document.createElementNS(NS, "ellipse");
      const cx = xRA(ra[k]), cy = yDEC(dec[k]);
      const sc = pass === 0 ? 1.35 : 1.0;
      e.setAttribute("cx", cx); e.setAttribute("cy", cy);
      e.setAttribute("rx", sx[k] * 1487 * sc); e.setAttribute("ry", sy[k] * 1925 * sc);
      e.setAttribute("transform", "rotate(" + pa[k] + " " + cx + " " + cy + ")");
      e.setAttribute("fill", colour(pass === 0 ? peak[k] * 0.4 : peak[k]));
      
      
      g.appendChild(e);
    }
  }
}
drawBlobs("blobsB", bRA, bDEC, bPeak, bSX, bSY, bPA);
drawBlobs("blobsD", dRA, dDEC, dPeak, dSX, dSY, dPA);
drawBlobs("blobsF", fRA, fDEC, fPeak, fSX, fSY, fPA);

function drawCbar(gid, ticks, x, top, perUnit, topVal, tickX){
  const g = document.getElementById(gid);
  ticks.forEach(tv => {
    const y = top + (topVal - (+tv)) * perUnit;
    const t = document.createElementNS(NS, "text");
    t.setAttribute("x", x); t.setAttribute("y", y + 7);
    t.textContent = tv;
    
    
    g.appendChild(t);
    const l = document.createElementNS(NS, "line");
    l.setAttribute("x1", tickX); l.setAttribute("x2", tickX + 5);
    l.setAttribute("y1", y); l.setAttribute("y2", y);
    l.setAttribute("stroke", "#999");
    
    
    g.appendChild(l);
  });
}
drawCbar("cbA", cbTicksA, 641, 38, 8.64, 60, 632);
drawCbar("cbC", cbTicksC, 641, 583, 9.32, 55, 632);
drawCbar("cbE", cbTicksE, 641, 1114, 53.3, 12, 632);
drawCbar("cbB", cbTicksB, 1329, 33, 1033, 0.75, 1321);
drawCbar("cbD", cbTicksD, 1329, 571, 958, 0.85, 1321);
drawCbar("cbF", cbTicksF, 1329, 1123, 1036, 0.9, 1321);
</script>
</body></html>
